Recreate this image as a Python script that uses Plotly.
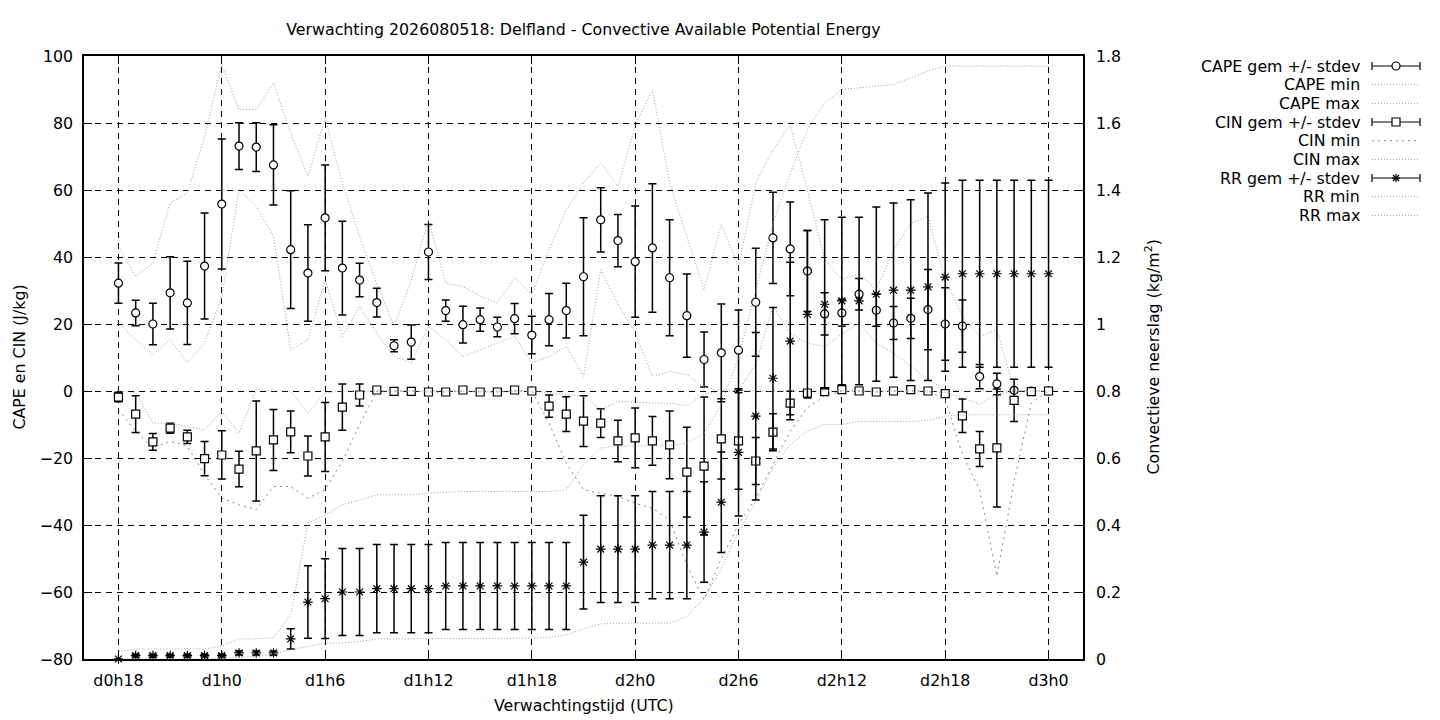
import plotly.graph_objects as go

# --- DATA ---
# uren vanaf d0h18, stap 1 uur
hours = list(range(55))
tick_hours = [0, 6, 12, 18, 24, 30, 36, 42, 48, 54]
tick_labels = ["d0h18", "d1h0", "d1h6", "d1h12", "d1h18",
               "d2h0", "d2h6", "d2h12", "d2h18", "d3h0"]

# CAPE (J/kg)
cape_mean = [32.2, 23.3, 20.0, 29.3, 26.3, 37.3, 55.8, 73.1, 72.8, 67.5,
             42.2, 35.2, 51.7, 36.7, 33.1, 26.4, 13.5, 14.6, 41.5, 24.0,
             19.8, 21.3, 19.1, 21.6, 16.7, 21.3, 24.0, 34.1, 51.1, 44.9,
             38.6, 42.7, 33.8, 22.5, 9.4, 11.4, 12.2, 26.5, 45.7, 42.4,
             35.8, 23.0, 23.3, 28.9, 24.1, 20.3, 21.7, 24.3, 20.0, 19.4,
             4.3, 2.1, 0.2, 0.0, 0.0]
cape_sd = [6.0, 3.8, 6.2, 10.8, 12.4, 15.8, 19.4, 7.0, 7.3, 12.0,
           17.6, 14.4, 15.8, 14.0, 5.0, 4.3, 1.8, 5.1, 8.2, 3.2,
           5.5, 3.5, 2.9, 4.5, 5.6, 7.8, 8.2, 17.6, 9.6, 7.8,
           16.6, 19.2, 17.3, 12.4, 8.2, 14.6, 12.0, 16.1, 13.6, 14.0,
           12.1, 6.3, 4.0, 4.7, 4.8, 4.9, 6.0, 12.0, 10.8, 7.8,
           3.6, 3.2, 0.5, 0.0, 0.0]
cape_min = [20.3, 15.3, 10.8, 15.3, 8.4, 14.3, 28.0, 60.1, 55.1, 46.2,
            12.3, 15.3, 33.2, 16.3, 25.3, 17.3, 10.3, 8.4, 19.3, 15.3,
            10.3, 12.3, 14.3, 16.3, 8.4, 10.3, 13.3, 4.4, 36.2, 26.0,
            17.3, 4.4, 5.8, 4.9, 1.2, 0.0, 0.0, 8.0, 25.3, 17.3,
            14.3, 13.3, 17.0, 20.3, 14.3, 11.3, 7.4, 3.4, 0.4, 0.0,
            0.0, 0.0, 0.0, 0.0, 0.0]
cape_max = [43.2, 34.2, 38.2, 56.1, 59.1, 76.0, 97.4, 84.0, 84.0, 91.9,
            77.0, 64.1, 81.5, 62.0, 46.0, 32.0, 19.3, 33.0, 51.1, 32.2,
            31.2, 28.3, 26.3, 33.7, 28.8, 42.2, 54.1, 62.1, 68.1, 61.1,
            79.0, 90.0, 62.1, 46.2, 30.2, 49.7, 37.2, 62.0, 72.0, 79.5,
            60.0, 39.2, 33.2, 35.2, 30.2, 42.0, 50.1, 52.1, 33.0, 22.3,
            16.3, 18.3, 0.4, 0.0, 0.0]

# CIN (J/kg)
cin_mean = [-1.8, -6.9, -15.2, -11.1, -13.7, -20.2, -19.1, -23.3, -17.9, -14.6,
            -12.2, -19.4, -13.7, -4.8, -1.2, 0.3, -0.1, -0.1, -0.3, -0.3,
            0.3, -0.3, -0.3, 0.3, 0.0, -4.5, -6.9, -9.0, -9.6, -14.9,
            -14.0, -14.9, -16.1, -24.2, -22.4, -14.3, -14.9, -20.9, -12.3, -3.6,
            -0.6, -0.2, 0.4, 0.0, -0.3, 0.0, 0.4, 0.0, -0.8, -7.4,
            -17.3, -17.0, -2.8, -0.2, 0.0]
cin_sd = [1.4, 5.5, 2.5, 1.5, 2.0, 5.1, 7.2, 5.3, 14.9, 9.1,
          6.2, 6.0, 10.3, 6.9, 3.3, 0.4, 0.2, 0.2, 0.3, 0.3,
          0.3, 0.3, 0.3, 0.3, 0.3, 3.3, 5.2, 7.6, 4.3, 6.2,
          8.9, 7.3, 10.1, 13.4, 20.6, 12.0, 14.4, 7.0, 5.5, 3.5,
          1.0, 0.5, 0.3, 0.3, 0.3, 0.3, 0.3, 0.3, 0.8, 5.0,
          5.2, 17.6, 6.3, 0.3, 0.2]
cin_min = [-5.6, -12.1, -17.0, -15.0, -16.5, -25.0, -32.0, -34.0, -35.4, -28.5,
           -28.5, -32.0, -29.5, -21.0, -10.0, 0.0, 0.0, 0.0, -0.3, -0.3,
           0.0, -0.3, -0.3, 0.0, 0.0, -9.6, -21.5, -29.5, -30.5, -31.5,
           -33.5, -35.0, -38.5, -52.0, -62.3, -50.0, -40.0, -32.0, -22.0, -12.0,
           -5.0, -1.5, 0.0, 0.0, -0.3, 0.0, 0.0, 0.0, -2.6, -19.0,
           -29.5, -55.3, -27.0, -3.6, 0.0]
cin_max = [0.0, -0.5, -9.6, -9.6, -10.6, -11.6, -6.1, -12.6, 0.4, 0.0,
           0.0, -6.6, -0.5, 0.0, 0.0, 0.0, 0.0, 0.0, 0.0, 0.0,
           0.0, 0.0, 0.0, 0.0, 0.0, -0.5, -1.0, -1.6, -5.5, -3.1,
           -3.3, -3.6, -3.6, -4.4, -1.0, 0.0, 0.0, 0.0, 0.0, 0.0,
           0.0, 0.0, 0.0, 0.0, 0.0, 0.0, 0.0, 0.0, -0.5, -2.0,
           -4.0, -1.0, 0.0, 0.0, 0.0]

# Convectieve neerslag (kg/m2)
rr_mean = [0.0, 0.010, 0.010, 0.010, 0.010, 0.010, 0.010, 0.018, 0.018, 0.018,
           0.060, 0.170, 0.180, 0.200, 0.200, 0.210, 0.210, 0.210, 0.210, 0.218,
           0.218, 0.218, 0.218, 0.218, 0.218, 0.218, 0.218, 0.289, 0.328, 0.328,
           0.328, 0.340, 0.340, 0.340, 0.379, 0.468, 0.617, 0.725, 0.838, 0.949,
           1.029, 1.059, 1.069, 1.069, 1.089, 1.101, 1.101, 1.111, 1.140, 1.150,
           1.150, 1.150, 1.150, 1.150, 1.150]
rr_sd = [0.0, 0.004, 0.004, 0.004, 0.004, 0.004, 0.004, 0.006, 0.006, 0.006,
         0.030, 0.108, 0.119, 0.130, 0.130, 0.132, 0.132, 0.132, 0.132, 0.130,
         0.130, 0.130, 0.130, 0.130, 0.130, 0.130, 0.130, 0.140, 0.159, 0.159,
         0.159, 0.160, 0.160, 0.160, 0.150, 0.150, 0.190, 0.250, 0.211, 0.235,
         0.250, 0.252, 0.250, 0.250, 0.260, 0.260, 0.270, 0.280, 0.281, 0.279,
         0.279, 0.279, 0.279, 0.279, 0.279]
rr_min = [0.0, 0.0, 0.0, 0.0, 0.0, 0.0, 0.003, 0.005, 0.008, 0.015,
          0.028, 0.037, 0.047, 0.048, 0.052, 0.060, 0.060, 0.060, 0.060, 0.060,
          0.060, 0.060, 0.060, 0.060, 0.062, 0.065, 0.072, 0.090, 0.105, 0.107,
          0.107, 0.107, 0.107, 0.127, 0.180, 0.270, 0.380, 0.470, 0.570, 0.640,
          0.680, 0.700, 0.700, 0.709, 0.709, 0.709, 0.709, 0.712, 0.725, 0.729,
          0.729, 0.729, 0.729, 0.729, 0.729]
rr_max = [0.023, 0.030, 0.030, 0.030, 0.030, 0.030, 0.038, 0.060, 0.060, 0.063,
          0.130, 0.405, 0.430, 0.460, 0.475, 0.490, 0.490, 0.490, 0.495, 0.498,
          0.500, 0.500, 0.500, 0.500, 0.500, 0.500, 0.505, 0.580, 0.630, 0.636,
          0.636, 0.636, 0.636, 0.645, 0.674, 0.760, 0.900, 1.100, 1.300, 1.450,
          1.580, 1.660, 1.700, 1.705, 1.710, 1.715, 1.735, 1.755, 1.770, 1.770,
          1.770, 1.770, 1.770, 1.770, 1.770]

# --- STYLE ---
FONT = "DejaVu Sans"
FSIZE = 15.8
GREY = "#a0a0a0"
DOT = "1px,2px"
DOT_CIN = "2px,4px"

# the page body has an 8px margin; the figure runs down to the bottom of the window
OFF = 8
FIG_W, FIG_H = 1440 - 2 * OFF, 720 - OFF
# plot area (offsets inside the figure)
L, T, PW, PH = 84 - OFF, 56 - OFF, 999, 603


def fx(px):
    return (px - OFF - L) / PW


def fy(py):
    return (T + PH - (py - OFF)) / PH


def gem(name, y, sd, symbol, axis="y"):
    fill = "black" if symbol == "asterisk-open" else "white"
    return go.Scatter(
        x=hours, y=y, name=name, mode="markers", yaxis=axis, cliponaxis=False,
        marker=dict(symbol=symbol, size=8, color=fill,
                    line=dict(color="black", width=1.2)),
        error_y=dict(type="data", array=sd, color="black", thickness=1.5, width=4),
    )


def minmax(name, y, axis="y", dash=DOT, color=GREY):
    return go.Scatter(x=hours, y=y, name=name, mode="lines", yaxis=axis,
                      line=dict(color=color, width=1, dash=dash))


fig = go.Figure()
fig.add_trace(gem("CAPE gem +/- stdev", cape_mean, cape_sd, "circle"))
fig.add_trace(minmax("CAPE min", cape_min))
fig.add_trace(minmax("CAPE max", cape_max))
fig.add_trace(gem("CIN gem +/- stdev", cin_mean, cin_sd, "square"))
fig.add_trace(minmax("CIN min", cin_min, dash=DOT_CIN, color="#8a8a8a"))
fig.add_trace(minmax("CIN max", cin_max))
fig.add_trace(gem("RR gem +/- stdev", rr_mean, rr_sd, "asterisk-open", axis="y2"))
fig.add_trace(minmax("RR min", rr_min, axis="y2"))
fig.add_trace(minmax("RR max", rr_max, axis="y2"))

# --- KEY (gnuplot style: text right-aligned, sample to the right) ---
key = [("CAPE gem +/- stdev", "circle"), ("CAPE min", "line"), ("CAPE max", "line"),
       ("CIN gem +/- stdev", "square"), ("CIN min", "cin"), ("CIN max", "line"),
       ("RR gem +/- stdev", "star"), ("RR min", "line"), ("RR max", "line")]
shapes = []
annotations = []
KX_TEXT, KX0, KX1, KXM = 1362, 1372, 1420, 1396
for k, (label, kind) in enumerate(key):
    ry = 66 + 18.67 * k
    annotations.append(dict(text=label, x=fx(KX_TEXT), y=fy(ry), xref="paper", yref="paper",
                            xanchor="right", yanchor="middle", showarrow=False,
                            font=dict(family=FONT, size=FSIZE, color="black")))
    if kind in ("line", "cin"):
        shapes.append(dict(type="line", xref="paper", yref="paper",
                           x0=fx(KX0), x1=fx(KX1), y0=fy(ry), y1=fy(ry),
                           line=dict(color="#8a8a8a" if kind == "cin" else GREY, width=1,
                                     dash=DOT_CIN if kind == "cin" else DOT)))
        continue
    blk = dict(color="black", width=1.2)
    shapes.append(dict(type="line", xref="paper", yref="paper", x0=fx(KX0), x1=fx(KX1),
                       y0=fy(ry), y1=fy(ry), line=blk))
    for cx in (KX0, KX1):
        shapes.append(dict(type="line", xref="paper", yref="paper", x0=fx(cx), x1=fx(cx),
                           y0=fy(ry - 4), y1=fy(ry + 4), line=blk))
    if kind == "circle":
        shapes.append(dict(type="circle", xref="paper", yref="paper",
                           x0=fx(KXM - 4), x1=fx(KXM + 4), y0=fy(ry - 4), y1=fy(ry + 4),
                           fillcolor="white", line=blk))
    elif kind == "square":
        shapes.append(dict(type="rect", xref="paper", yref="paper",
                           x0=fx(KXM - 4), x1=fx(KXM + 4), y0=fy(ry - 4), y1=fy(ry + 4),
                           fillcolor="white", line=blk))
    else:
        for dx, dy in ((4, 0), (0, 4), (3, 3), (3, -3)):
            shapes.append(dict(type="line", xref="paper", yref="paper",
                               x0=fx(KXM - dx), x1=fx(KXM + dx),
                               y0=fy(ry - dy), y1=fy(ry + dy), line=blk))

# axis titles
annotations += [
    dict(text="Verwachtingstijd (UTC)", x=0.5, y=0, xref="paper", yref="paper",
         yshift=-46, xanchor="center", yanchor="middle", showarrow=False),
    dict(text="CAPE en CIN (J/kg)", x=0, y=0.5, xref="paper", yref="paper",
         xshift=-65, textangle=-90, xanchor="center", yanchor="middle", showarrow=False),
    dict(text="Convectieve neerslag (kg/m<sup>2</sup>)", x=1, y=0.5, xref="paper",
         yref="paper", xshift=70, textangle=-90, xanchor="center", yanchor="middle",
         showarrow=False),
]

axis_common = dict(showline=True, linecolor="black", linewidth=1.5, ticks="inside",
                   ticklen=8, tickcolor="black", tickwidth=1, zeroline=False)

fig.update_layout(
    width=FIG_W, height=FIG_H,
    margin=dict(l=L, r=FIG_W - L - PW, t=T, b=FIG_H - T - PH),
    paper_bgcolor="white", plot_bgcolor="white",
    font=dict(family=FONT, size=FSIZE, color="black"),
    showlegend=False,
    title=dict(text="Verwachting 2026080518: Delfland - Convective Available Potential Energy",
               x=0.5, xref="paper", xanchor="center", y=1 - (29 - OFF) / FIG_H,
               yref="container", yanchor="middle",
               font=dict(family=FONT, size=FSIZE, color="black")),
    xaxis=dict(range=[-2, 56], tickvals=tick_hours, ticktext=tick_labels,
               showgrid=True, gridcolor="black", gridwidth=1, griddash="6px,5px",
               mirror="ticks", ticklabelstandoff=6, **axis_common),
    yaxis=dict(range=[-80, 100], dtick=20, tick0=0, showgrid=True, gridcolor="black",
               gridwidth=1, griddash="6px,5px", ticklabelstandoff=6, **axis_common),
    yaxis2=dict(range=[0, 1.8], dtick=0.2, tick0=0, overlaying="y", side="right",
                showgrid=False, ticklabelstandoff=8, **axis_common),
    shapes=shapes,
    annotations=annotations,
)

fig.write_html("out.html")
